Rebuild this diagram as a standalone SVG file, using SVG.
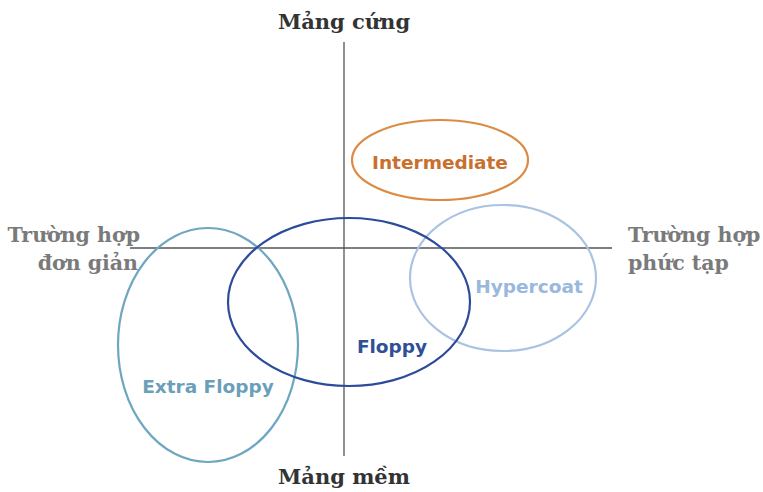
<svg xmlns="http://www.w3.org/2000/svg" width="763" height="492" viewBox="0 0 763 492">
<style>
.axis{stroke:#555;stroke-width:1.3;fill:none}
.ax{font-family:"DejaVu Serif","Liberation Serif",serif;font-weight:bold;font-size:21px;fill:#333;text-anchor:middle}
.side{font-family:"DejaVu Serif","Liberation Serif",serif;font-weight:bold;font-size:20.5px;fill:#7a7a7a}
.lbl{font-family:"DejaVu Sans","Liberation Sans",sans-serif;font-weight:bold;font-size:18.5px;text-anchor:middle}
.el{fill:none;stroke-width:2.2}
</style>
<rect width="763" height="492" fill="#fff"/>
<g id="axes">
<line class="axis" x1="344" y1="42" x2="344" y2="456"/>
<line class="axis" x1="130" y1="248" x2="612" y2="248"/>
</g>
<g id="axis-labels">
<text class="ax" x="344" y="29">Mảng cứng</text>
<text class="ax" x="344" y="484">Mảng mềm</text>
<text class="side" x="140" y="242" text-anchor="end">Trường hợp</text>
<text class="side" x="138" y="270" text-anchor="end">đơn giản</text>
<text class="side" x="628" y="242">Trường hợp</text>
<text class="side" x="628" y="270">phức tạp</text>
</g>
<g id="extra-floppy">
<ellipse class="el" cx="208" cy="345" rx="90" ry="117" stroke="#6fa6c0"/>
<text class="lbl" x="208" y="393" fill="#6a9fba">Extra Floppy</text>
</g>
<g id="hypercoat">
<ellipse class="el" cx="503" cy="278" rx="93" ry="73" stroke="#a9c3e2"/>
<text class="lbl" x="529" y="293" fill="#9ab8dd">Hypercoat</text>
</g>
<g id="floppy">
<ellipse class="el" cx="349" cy="302" rx="121" ry="84" stroke="#2d4b9b"/>
<text class="lbl" x="392" y="353" fill="#2f4f96">Floppy</text>
</g>
<g id="intermediate">
<ellipse class="el" cx="440" cy="160" rx="88" ry="40" stroke="#dd8a44"/>
<text class="lbl" x="440" y="169" fill="#c8702e">Intermediate</text>
</g>
</svg>
